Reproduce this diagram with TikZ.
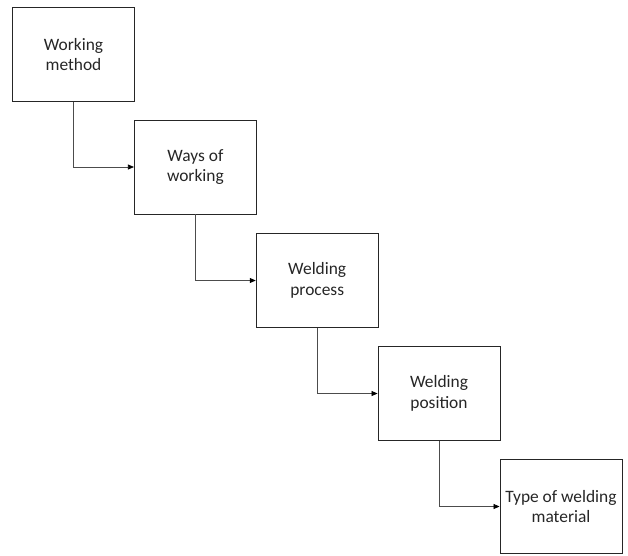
\documentclass[tikz,border=0pt]{standalone}
\usepackage{fontspec}
\setmainfont{Carlito}
\usetikzlibrary{arrows.meta}
\begin{document}
\begin{tikzpicture}[x=1pt,y=-1pt,
  stage/.style={draw=black!85,line width=0.9pt,rectangle,
    minimum width=122pt,minimum height=94pt,inner sep=0pt,align=center,
    font=\fontsize{17.4pt}{20.5pt}\selectfont,text=black!85},
  link/.style={draw=black!70,line width=0.7pt,
    -{Triangle[length=6pt,width=5pt,black]}}]
\useasboundingbox (0,0) rectangle (628,555);
\node[stage] (b1) at (73.5,54.5)  {Working\\method};
\node[stage] (b2) at (195.4,167)  {Ways of\\working};
\node[stage] (b3) at (317.2,280.5) {Welding\\process};
\node[stage] (b4) at (439,393.5)  {Welding\\position};
\node[stage] (b5) at (561,506.5)  {Type of welding\\material};
\draw[link] (b1.south) |- (b2.west);
\draw[link] (b2.south) |- (b3.west);
\draw[link] (b3.south) |- (b4.west);
\draw[link] (b4.south) |- (b5.west);
\end{tikzpicture}
\end{document}
